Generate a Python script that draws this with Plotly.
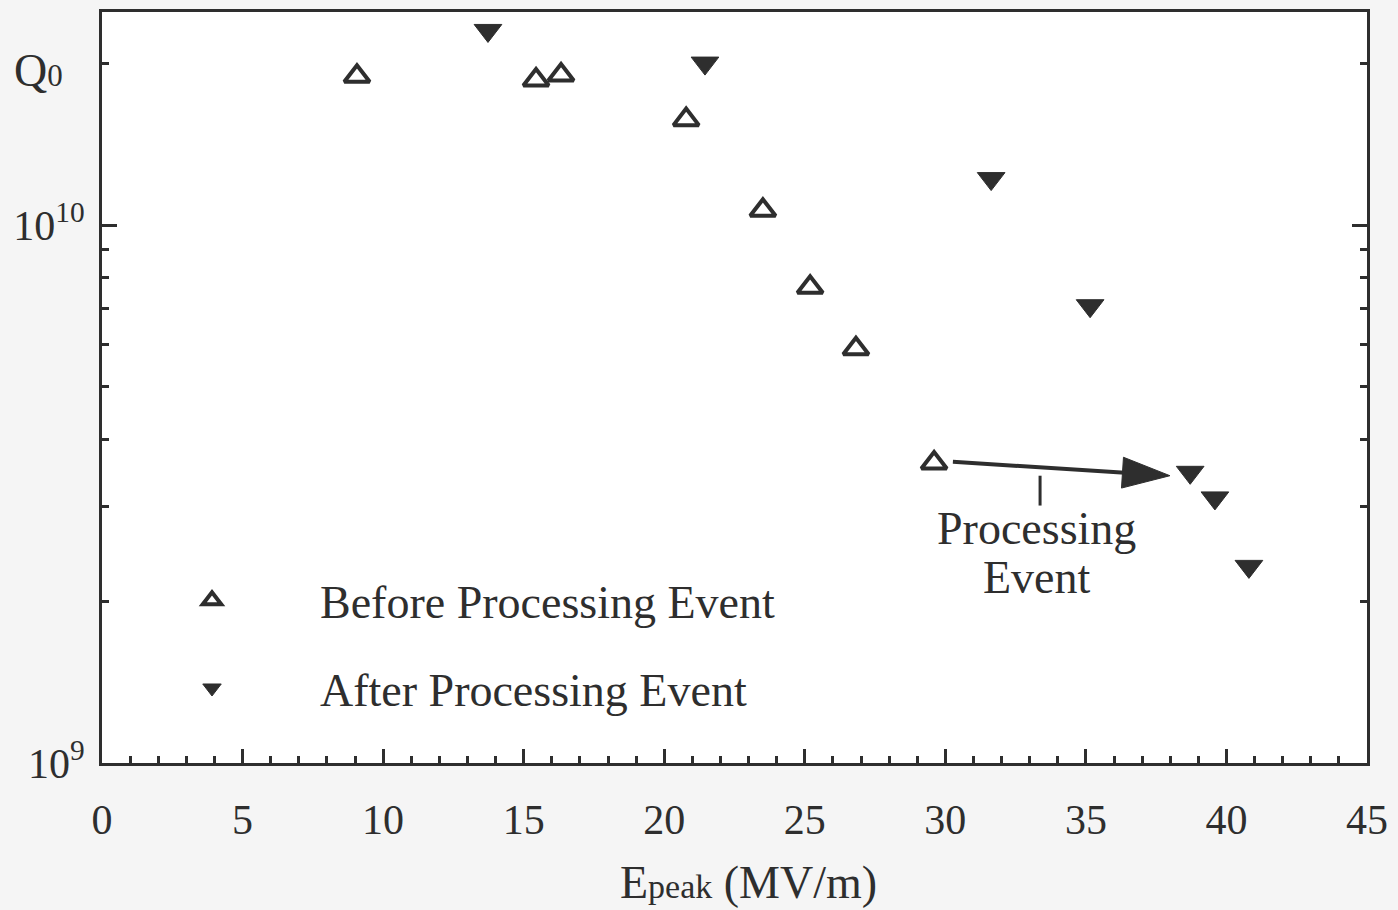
import plotly.graph_objects as go

# ---- data ----
before_x = [9.07, 15.44, 16.33, 20.78, 23.51, 25.19, 26.82, 29.60]
before_q = [1.89e10, 1.86e10, 1.90e10, 1.57e10, 1.065e10, 7.66e9, 5.89e9, 3.61e9]

after_x = [13.73, 21.45, 31.63, 35.15, 38.71, 39.59, 40.80]
after_q = [2.30e10, 2.00e10, 1.22e10, 7.08e9, 3.47e9, 3.11e9, 2.32e9]

arrow_x = [30.27, 37.99]
arrow_q = [3.63e9, 3.42e9]
marker_x = [33.37, 33.37]
marker_q = [3.42e9, 3.01e9]

x_ticks = [0, 5, 10, 15, 20, 25, 30, 35, 40, 45]
y_ticks = [1e9, 1e10]
y_tick_text = ["10<sup>9</sup>", "10<sup>10</sup>"]
y_minor = [2e9, 3e9, 4e9, 5e9, 6e9, 7e9, 8e9, 9e9, 2e10]

INK = "#2e2e2e"
FONT = "Liberation Serif, Times New Roman, serif"

fig = go.Figure()

fig.add_trace(go.Scatter(
    x=before_x, y=before_q, mode="markers", name="Before Processing Event",
    marker=dict(symbol="triangle-up-open", size=22, color=INK, opacity=1,
                line=dict(width=4, color=INK)),
    legendgroup="a"))

fig.add_trace(go.Scatter(
    x=after_x, y=after_q, mode="markers", name="After Processing Event",
    marker=dict(symbol="triangle-down", size=24, color=INK, opacity=1,
                line=dict(width=1, color=INK)),
    legendgroup="b"))

fig.add_trace(go.Scatter(
    x=arrow_x, y=arrow_q, mode="lines+markers", showlegend=False,
    line=dict(color=INK, width=4),
    marker=dict(symbol="arrow", size=[0, 50], angleref="previous",
                color=INK, opacity=1, line=dict(width=1, color=INK)),
    opacity=1, hoverinfo="skip"))

fig.add_trace(go.Scatter(
    x=marker_x, y=marker_q, mode="lines", showlegend=False,
    line=dict(color=INK, width=3), hoverinfo="skip"))

L, R, T, B = 102, 31, 9, 147
W, H = 1398, 910
pw, ph = W - L - R, H - T - B

def px(xp):
    return (xp - L) / pw

def py(yp):
    return (H - B - yp) / ph

annos = [
    dict(text="Q<span style='font-size:31px'>0</span>", x=px(38), y=py(68)),
    dict(text="Processing", x=px(1036), y=py(528)),
    dict(text="Event", x=px(1037), y=py(577)),
    dict(text="E<span style='font-size:34px'>peak</span> (MV/m)",
         x=px(748), y=py(883)),
]
annotations = []
for a in annos:
    annotations.append(dict(xref="paper", yref="paper", showarrow=False,
                            xanchor="center", yanchor="middle",
                            font=dict(family=FONT, size=46, color=INK), **a))

fig.update_layout(
    width=W, height=H,
    margin=dict(l=L, r=R, t=T, b=B),
    paper_bgcolor="#f5f5f5",
    plot_bgcolor="#ffffff",
    font=dict(family=FONT, size=42, color=INK),
    annotations=annotations,
    showlegend=True,
    legend=dict(x=px(104), y=py(563), xanchor="left", yanchor="top",
                itemwidth=206, bgcolor="rgba(0,0,0,0)", borderwidth=0,
                traceorder="grouped", tracegroupgap=25,
                font=dict(family=FONT, size=46, color=INK)),
)

fig.update_xaxes(
    range=[0, 45], showgrid=False, zeroline=False,
    showline=True, linecolor=INK, linewidth=3, mirror=True,
    ticks="inside", ticklen=14, tickwidth=2.5, tickcolor=INK,
    tickvals=x_ticks, ticklabelstandoff=18,
    tickfont=dict(family=FONT, size=42, color=INK),
    minor=dict(dtick=1, ticks="inside", ticklen=7, tickwidth=2.5,
               tickcolor=INK, showgrid=False),
)

fig.update_yaxes(
    type="log", range=[9, 10.396], showgrid=False, zeroline=False,
    showline=True, linecolor=INK, linewidth=3, mirror="ticks",
    ticks="inside", ticklen=15, tickwidth=2.5, tickcolor=INK,
    tickvals=y_ticks, ticktext=y_tick_text, ticklabelstandoff=6,
    tickfont=dict(family=FONT, size=42, color=INK),
    minor=dict(tickvals=y_minor, ticks="inside", ticklen=7, tickwidth=2.5,
               tickcolor=INK, showgrid=False),
)

fig.write_html(
    "out.html",
    config={"displayModeBar": False},
    post_script="document.body.style.margin='0px';"
                "document.body.style.overflow='hidden';",
)
